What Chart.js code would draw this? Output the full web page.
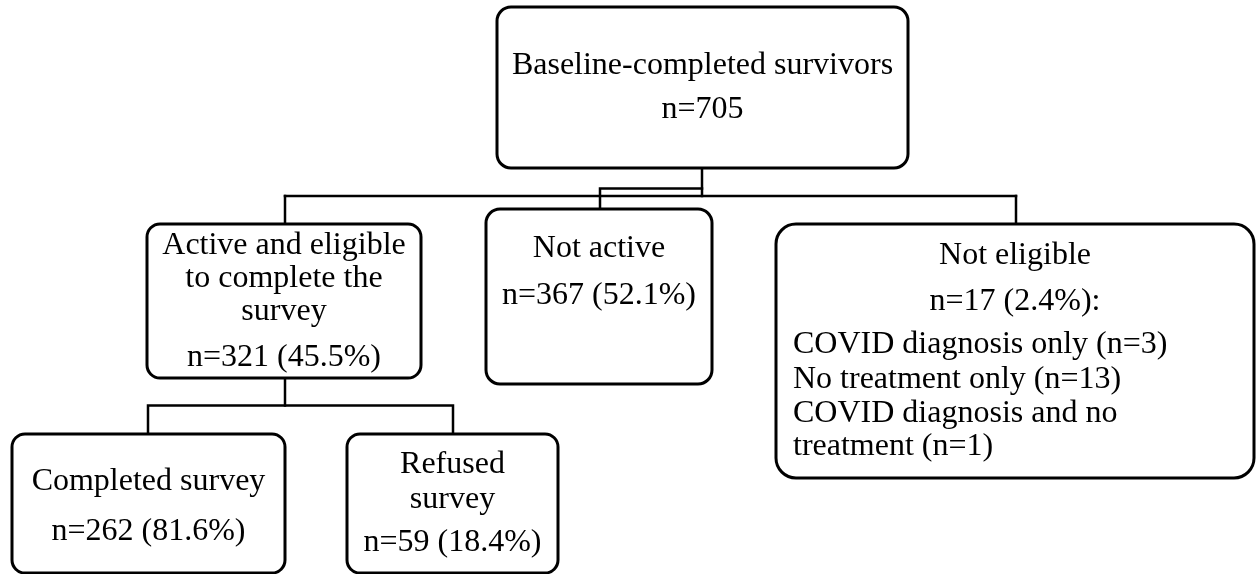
<!DOCTYPE html>
<html>
<head>
<meta charset="utf-8">
<script src="https://cdn.jsdelivr.net/npm/chart.js@4.4.1/dist/chart.umd.min.js"></script>
<style>
  html, body { margin: 0; padding: 0; background: #ffffff; }
  #wrap { width: 1257px; height: 574px; position: relative; }
</style>
</head>
<body>
<div id="wrap"><canvas id="c"></canvas></div>
<script>
// ---------- DATA ----------
const nodeLabels = [
  ["Baseline-completed survivors"],
  ["Active and eligible", "to complete the", "survey"],
  ["Not active"],
  ["Not eligible"],
  ["Completed survey"],
  ["Refused", "survey"]
];
const nodeCounts   = [705, 321, 367, 17, 262, 59];
const nodePercents = [null, 45.5, 52.1, 2.4, 81.6, 18.4];
const ineligibleReasons = [["COVID diagnosis only"], ["No treatment only"], ["COVID diagnosis and no", "treatment"]];
const ineligibleCounts  = [3, 13, 1];

// ---------- LAYOUT (drawing-space units) ----------
const boxLayout = [
  { x0: 497, x1: 908,  y0: 7,   y1: 168, r: 14, lineY: [66, 110] },
  { x0: 147, x1: 421,  y0: 224, y1: 378, r: 13, lineY: [246, 279, 312, 358] },
  { x0: 486, x1: 712,  y0: 209, y1: 384, r: 14, lineY: [249, 296] },
  { x0: 776, x1: 1254, y0: 224, y1: 478, r: 20, lineY: [256, 302], leftX: 793, leftY: [345, 380, 414, 447] },
  { x0: 12,  x1: 285,  y0: 434, y1: 573, r: 13, lineY: [482, 532] },
  { x0: 347, x1: 558,  y0: 434, y1: 573, r: 13, lineY: [465, 500, 543] }
];
const connectors = [
  [[702, 168], [702, 196]],
  [[702, 188.5], [600, 188.5], [600, 209]],
  [[285, 196], [1016, 196]],
  [[285, 196], [285, 224]],
  [[1016, 196], [1016, 224]],
  [[285, 378], [285, 405.5]],
  [[148, 434], [148, 405.5], [453, 405.5], [453, 434]]
];
const FONT = "32px 'Liberation Serif', 'Times New Roman', serif";

function countText(i) {
  let s = "n=" + nodeCounts[i];
  if (nodePercents[i] !== null) s += " (" + nodePercents[i].toFixed(1) + "%)";
  if (i === 3) s += ":";
  return s;
}

const flowPlugin = {
  id: 'flow',
  afterDatasetsDraw(chart) {
    const ctx = chart.ctx;
    const xs = chart.scales.x, ys = chart.scales.y;
    const px = v => xs.getPixelForValue(v);
    const py = v => ys.getPixelForValue(v);
    ctx.save();
    ctx.strokeStyle = '#000';
    ctx.lineCap = 'square';
    ctx.lineJoin = 'miter';
    ctx.lineWidth = 2.5;
    connectors.forEach(pts => {
      ctx.beginPath();
      pts.forEach((p, k) => {
        if (k === 0) ctx.moveTo(px(p[0]), py(p[1]));
        else ctx.lineTo(px(p[0]), py(p[1]));
      });
      ctx.stroke();
    });
    ctx.lineWidth = 3;
    boxLayout.forEach((b, i) => {
      const x0 = px(b.x0), x1 = px(b.x1), y0 = py(b.y0), y1 = py(b.y1);
      ctx.beginPath();
      ctx.roundRect(x0, y0, x1 - x0, y1 - y0, b.r);
      ctx.fillStyle = '#fff';
      ctx.fill();
      ctx.stroke();
      ctx.fillStyle = '#000';
      ctx.font = FONT;
      ctx.textBaseline = 'middle';
      ctx.textAlign = 'center';
      const cx = (x0 + x1) / 2;
      const lines = nodeLabels[i].concat([countText(i)]);
      lines.forEach((t, k) => ctx.fillText(t, cx, py(b.lineY[k])));
      if (b.leftX !== undefined) {
        ctx.textAlign = 'left';
        const rl = [];
        ineligibleReasons.forEach((r, k) => {
          const parts = r.slice();
          parts[parts.length - 1] += " (n=" + ineligibleCounts[k] + ")";
          parts.forEach(p => rl.push(p));
        });
        rl.forEach((t, k) => ctx.fillText(t, px(b.leftX), py(b.leftY[k])));
      }
    });
    ctx.restore();
  }
};

new Chart(document.getElementById('c'), {
  type: 'scatter',
  data: {
    datasets: [{
      data: boxLayout.map((b, i) => ({ x: (b.x0 + b.x1) / 2, y: (b.y0 + b.y1) / 2, n: nodeCounts[i] })),
      pointRadius: 0,
      showLine: false
    }]
  },
  options: {
    responsive: true,
    maintainAspectRatio: false,
    animation: false,
    layout: { padding: 0 },
    plugins: { legend: { display: false }, tooltip: { enabled: false } },
    scales: {
      x: { type: 'linear', min: 0, max: 1257, display: false },
      y: { type: 'linear', min: 0, max: 574, reverse: true, display: false }
    }
  },
  plugins: [flowPlugin]
});
</script>
</body>
</html>
